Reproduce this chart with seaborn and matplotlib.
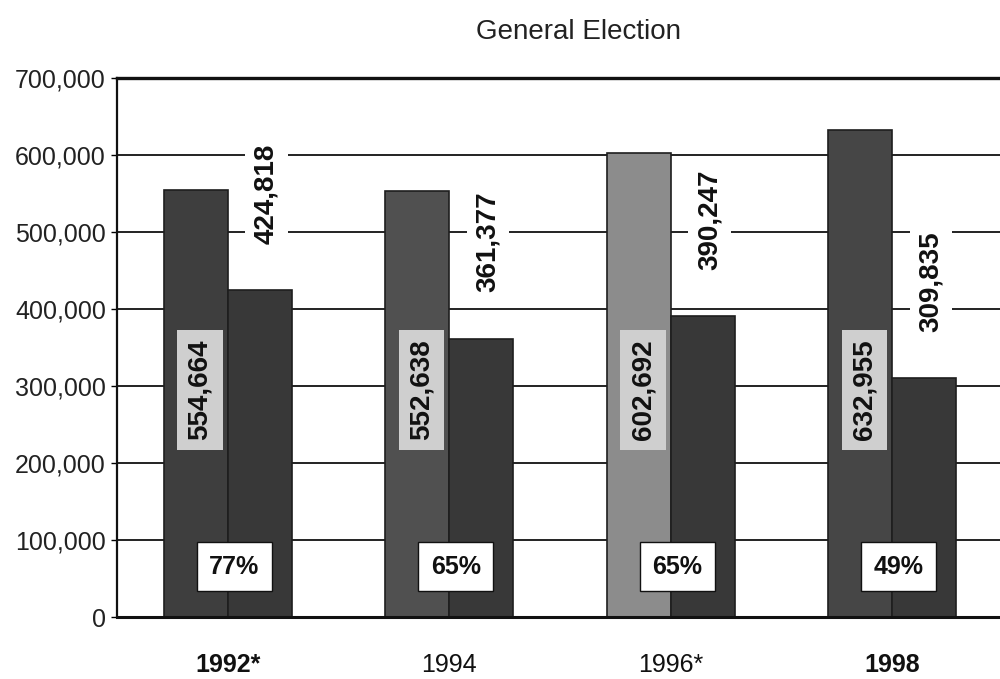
import matplotlib
matplotlib.use('Agg')
import matplotlib.pyplot as plt
import seaborn as sns
import pandas as pd

# ---- data ----
years = ['1992*', '1994', '1996*', '1998']
registered = [554664, 552638, 602692, 632955]
voted = [424818, 361377, 390247, 309835]
turnout = ['77%', '65%', '65%', '49%']
year_weights = ['bold', 'normal', 'normal', 'bold']
title = 'General Election'

sns.set_theme(style='white')
plt.rcParams['font.family'] = ['Liberation Sans', 'DejaVu Sans']

df = pd.DataFrame({
    'Year': years * 2,
    'Votes': registered + voted,
    'Series': ['Registered'] * len(years) + ['Voted'] * len(years),
})

fig = plt.figure(figsize=(10, 6.79), dpi=100)
ax = fig.add_axes([0.117, 0.0913, 0.886, 0.794])

sns.barplot(data=df, x='Year', y='Votes', hue='Series', order=years,
            hue_order=['Registered', 'Voted'],
            palette=['#444444', '#3a3a3a'], width=0.58, dodge=True,
            saturation=1, legend=False, ax=ax, zorder=2,
            edgecolor='#1e1e1e', linewidth=1.2, errorbar=None)

reg_colors = ['#3e3e3e', '#505050', '#8c8c8c', '#464646']
reg_bars = ax.containers[0]
vot_bars = ax.containers[1]
for p, c in zip(reg_bars, reg_colors):
    p.set_facecolor(c)
for p in vot_bars:
    p.set_facecolor('#383838')

ax.set_ylim(0, 700000)
ax.set_xlim(-0.5, 3.5)
ax.set_yticks(range(0, 700001, 100000))
ax.set_yticklabels([f'{v:,}' for v in range(0, 700001, 100000)], fontsize=18, color='#222222')
ax.set_xticks(range(len(years)))
ax.set_xticklabels(years, fontsize=18, color='#111111')
for lab, w in zip(ax.get_xticklabels(), year_weights):
    lab.set_fontweight(w)
ax.tick_params(axis='x', length=0, pad=26)
ax.tick_params(axis='y', length=4, width=1, color='black', left=True, pad=4)
ax.set_xlabel('')
ax.set_ylabel('')

ax.set_axisbelow(True)
ax.yaxis.grid(True, color='#111111', linewidth=1.3, zorder=0)
for s in ['left', 'bottom', 'top']:
    ax.spines[s].set_visible(True)
    ax.spines[s].set_color('#111111')
ax.spines['left'].set_linewidth(1.6)
ax.spines['bottom'].set_linewidth(2.2)
ax.spines['top'].set_linewidth(2.4)
ax.spines['right'].set_visible(False)

for i in range(len(years)):
    rp = reg_bars[i]
    vp = vot_bars[i]
    xr = rp.get_x() + rp.get_width() / 2
    xv = vp.get_x() + vp.get_width() / 2
    ax.text(xr + 0.02, 295000, f'{registered[i]:,}', rotation=90, ha='center', va='center',
            fontsize=20, fontweight='bold', color='#111111', zorder=4,
            bbox=dict(facecolor='#cfcfcf', edgecolor='none', boxstyle='square,pad=0.35'))
    ax.text(xv + 0.03, voted[i] + 60000, f'{voted[i]:,}', rotation=90, ha='center', va='bottom',
            fontsize=20, fontweight='bold', color='#111111', zorder=4,
            bbox=dict(facecolor='white', edgecolor='none', boxstyle='square,pad=0.3'))
    ax.text(i + 0.03, 65000, turnout[i], ha='center', va='center',
            fontsize=18, fontweight='bold', color='#111111', zorder=4,
            bbox=dict(facecolor='white', edgecolor='#111111', linewidth=1,
                      boxstyle='square,pad=0.5'))

fig.text(0.578, 0.953, title, ha='center', va='center', fontsize=20, color='#222222')

fig.savefig('out.png', dpi=100)
